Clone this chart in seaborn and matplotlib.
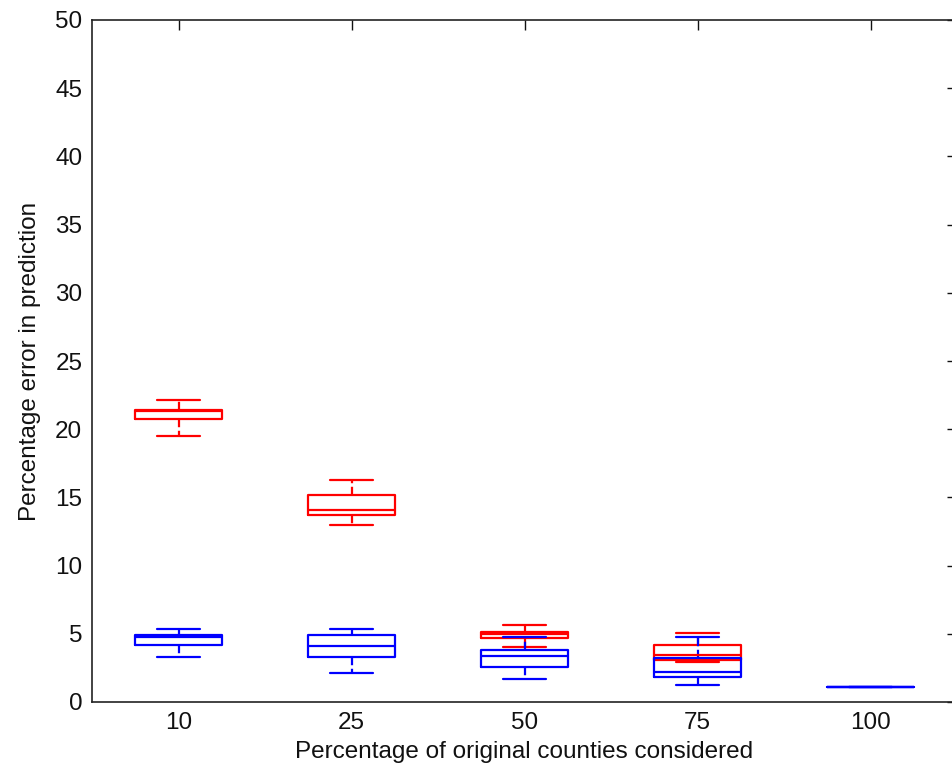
import numpy as np
import pandas as pd
import matplotlib
matplotlib.use("Agg")
import matplotlib.pyplot as plt
import seaborn as sns

categories = ["10", "25", "50", "75", "100"]
# five-number summaries per category: [min, q1, median, q3, max]
red_stats = [
    [19.5, 20.75, 21.3, 21.4, 22.15],
    [12.95, 13.7, 14.1, 15.2, 16.3],
    [4.0, 4.66, 4.95, 5.15, 5.64],
    [2.9, 3.07, 3.44, 4.18, 5.03],
    [np.nan, np.nan, np.nan, np.nan, np.nan],
]
blue_stats = [
    [3.3, 4.18, 4.75, 4.9, 5.35],
    [2.15, 3.3, 4.1, 4.9, 5.35],
    [1.69, 2.59, 3.4, 3.81, 4.79],
    [1.25, 1.86, 2.22, 3.25, 4.74],
    [1.12, 1.12, 1.12, 1.12, 1.12],
]
yticks = list(range(0, 55, 5))

rows = []
for series, stats in (("red", red_stats), ("blue", blue_stats)):
    for cat, vals in zip(categories, stats):
        for v in vals:
            rows.append({"cat": cat, "series": series, "value": v})
df = pd.DataFrame(rows)

sns.set_style("white")
plt.rcParams["font.family"] = ["Liberation Sans", "DejaVu Sans"]

fig = plt.figure(figsize=(9.53, 7.76), dpi=100)
ax = fig.add_axes([92 / 953, 1 - 702 / 776, (957 - 92) / 953, (702 - 20) / 776])

common = dict(x="cat", y="value", order=categories, whis=(0, 100), width=0.5,
              fill=False, linewidth=1.6, showfliers=False,
              whiskerprops={"linestyle": "--"}, ax=ax)
sns.boxplot(data=df[df.series == "red"], color="#ff0000", **common)
sns.boxplot(data=df[df.series == "blue"], color="#0000ff", **common)

ax.set_xlim(-0.5, 4.5)
ax.set_ylim(0, 50)
ax.set_yticks(yticks)
ax.set_xticks(range(len(categories)))
ax.set_xticklabels(categories)
ax.tick_params(direction="in", length=7, width=1, labelsize=17.5, colors="#111111",
               top=True, right=True, pad=7)
for s in ax.spines.values():
    s.set_visible(True)
    s.set_color("#222222")
    s.set_linewidth(1.2)
ax.set_xlabel("Percentage of original counties considered", fontsize=17.5,
              labelpad=5, color="#111111")
ax.set_ylabel("Percentage error in prediction", fontsize=17.5, labelpad=10,
              color="#111111")

fig.savefig("out.png", dpi=100)
